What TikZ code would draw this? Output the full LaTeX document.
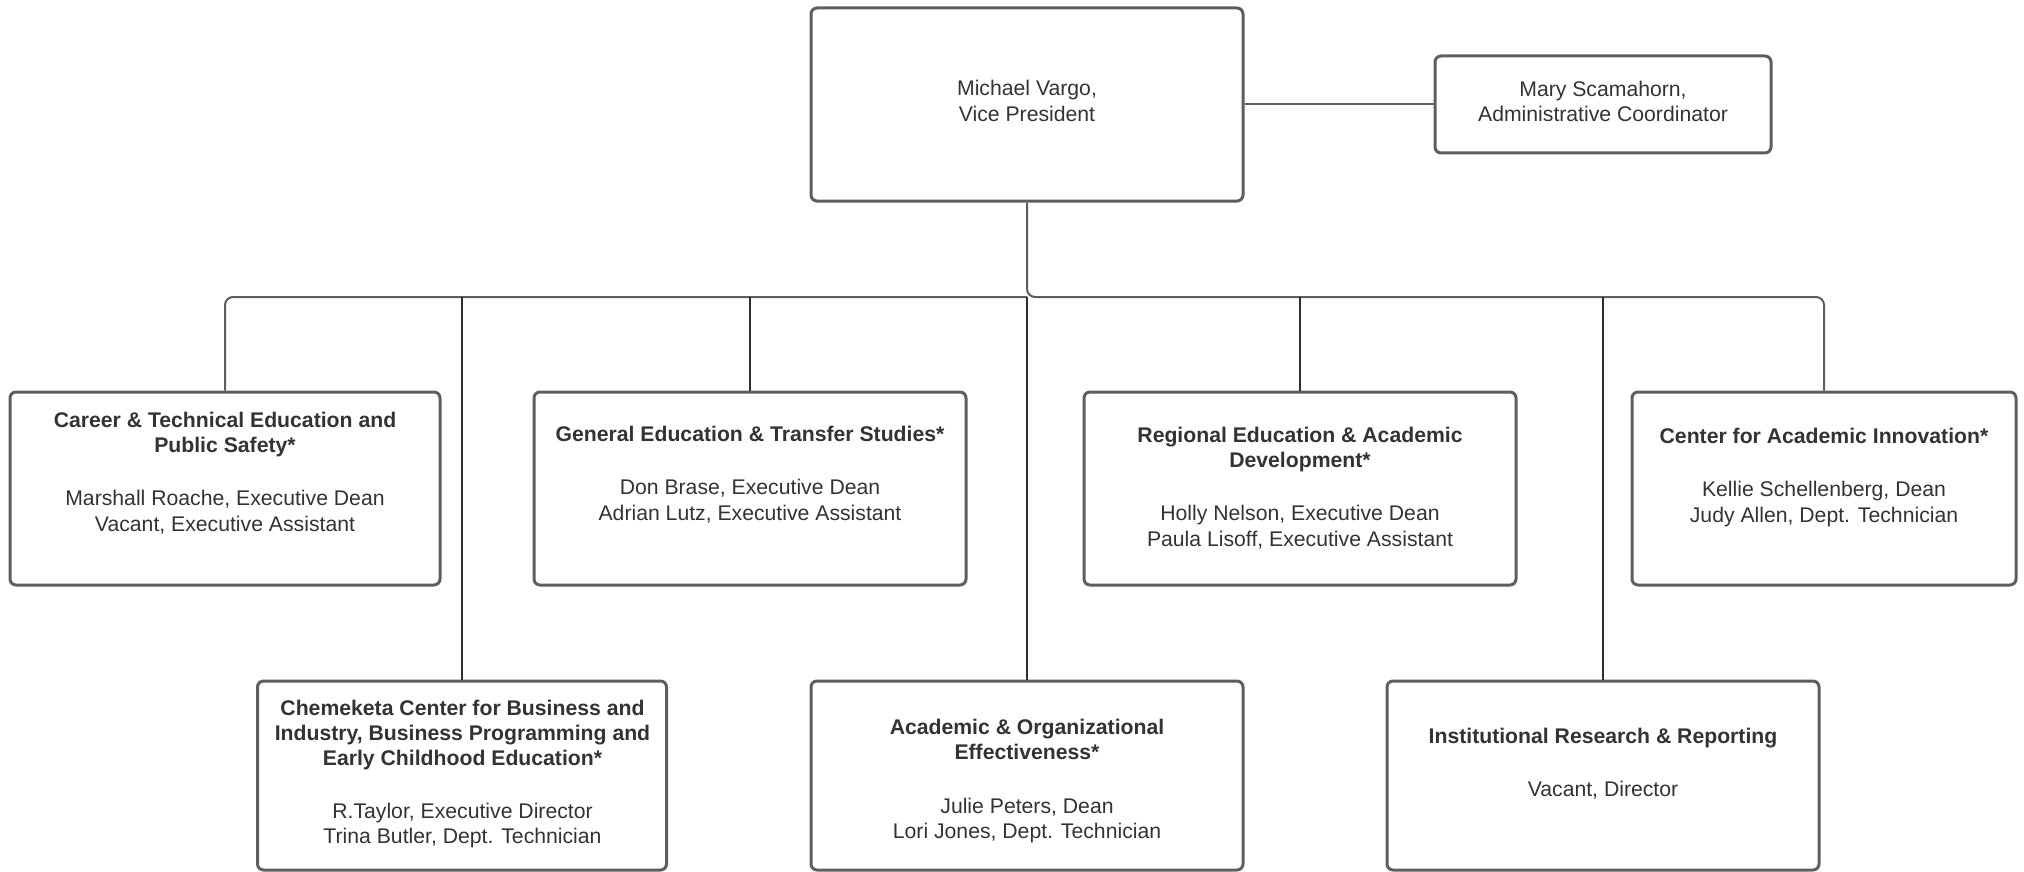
\documentclass[tikz,border=0pt]{standalone}
\usepackage{fontspec}
\setmainfont{Liberation Sans}
\definecolor{boxgray}{HTML}{5E5E5E}
\definecolor{txt}{HTML}{333333}
\definecolor{dropc}{HTML}{2E2E2E}
\begin{document}
\begin{tikzpicture}[x=0.5pt,y=-0.5pt,
  box/.style={draw=boxgray, line width=1.5pt, rounded corners=3pt, fill=white, inner sep=0pt},
  lbl/.style={text=txt, align=center, inner sep=0pt, font=\fontsize{10.6}{12.6}\selectfont},
  conn/.style={draw=boxgray, line width=1pt, rounded corners=4pt},
  drop/.style={draw=dropc, line width=0.85pt}]
\useasboundingbox (0,0) rectangle (2024,872);
% boxes
\node[box, minimum width=216pt, minimum height=96.5pt] (top) at (1027,104.5) {};
\node[box, minimum width=168pt, minimum height=48.5pt] (mary) at (1603,104.5) {};
\node[box, minimum width=215pt, minimum height=96.5pt] (b1) at (225,488.5) {};
\node[box, minimum width=216pt, minimum height=96.5pt] (b2) at (750,488.5) {};
\node[box, minimum width=216pt, minimum height=96.5pt] (b3) at (1300,488.5) {};
\node[box, minimum width=192pt, minimum height=96.5pt] (b4) at (1824,488.5) {};
\node[box, minimum width=204.5pt, minimum height=94.5pt] (b5) at (462,775.5) {};
\node[box, minimum width=216pt, minimum height=94.5pt] (b6) at (1027,775.5) {};
\node[box, minimum width=216pt, minimum height=94.5pt] (b7) at (1603,775.5) {};
% labels
\node[lbl] (topt) at (1027,101) {Michael Vargo,\\Vice President};
\node[lbl] (maryt) at (1603,101.5) {Mary Scamahorn,\\Administrative Coordinator};
\node[lbl] (b1t) at (225,473) {\textbf{Career \& Technical Education and}\\\textbf{Public Safety*}\\[14pt]Marshall Roache, Executive Dean\\Vacant, Executive Assistant};
\node[lbl] (b2t) at (750,474.5) {\textbf{General Education \& Transfer Studies*}\\[14pt]Don Brase, Executive Dean\\Adrian Lutz, Executive Assistant};
\node[lbl] (b3t) at (1300,488) {\textbf{Regional Education \& Academic}\\\textbf{Development*}\\[14pt]Holly Nelson, Executive Dean\\Paula Lisoff, Executive Assistant};
\node[lbl] (b4t) at (1824,477.5) {\textbf{Center for Academic Innovation*}\\[14pt]Kellie Schellenberg, Dean\\Judy Allen, Dept. Technician};
\node[lbl] (b5t) at (462.5,774) {\textbf{Chemeketa Center for Business and}\\\textbf{Industry, Business Programming and}\\\textbf{Early Childhood Education*}\\[14pt]R.Taylor, Executive Director\\Trina Butler, Dept. Technician};
\node[lbl] (b6t) at (1027,781) {\textbf{Academic \& Organizational}\\\textbf{Effectiveness*}\\[14pt]Julie Peters, Dean\\Lori Jones, Dept. Technician};
\node[lbl] (b7t) at (1603,763.5) {\textbf{Institutional Research \& Reporting}\\[14pt]Vacant, Director};
% connectors
\coordinate (bus) at (1027,297);
\draw[conn] (top.east) -- (mary.west);
\draw[conn] (top.south) -- (bus) -- (b4.north |- bus) -- (b4.north);
\draw[conn] (bus) -- (b1.north |- bus) -- (b1.north);
\draw[drop] (b2.north |- bus) -- (b2.north);
\draw[drop] (b3.north |- bus) -- (b3.north);
\draw[drop] (b5.north |- bus) -- (b5.north);
\draw[drop] (bus) -- (b6.north);
\draw[drop] (b7.north |- bus) -- (b7.north);
\end{tikzpicture}
\end{document}
